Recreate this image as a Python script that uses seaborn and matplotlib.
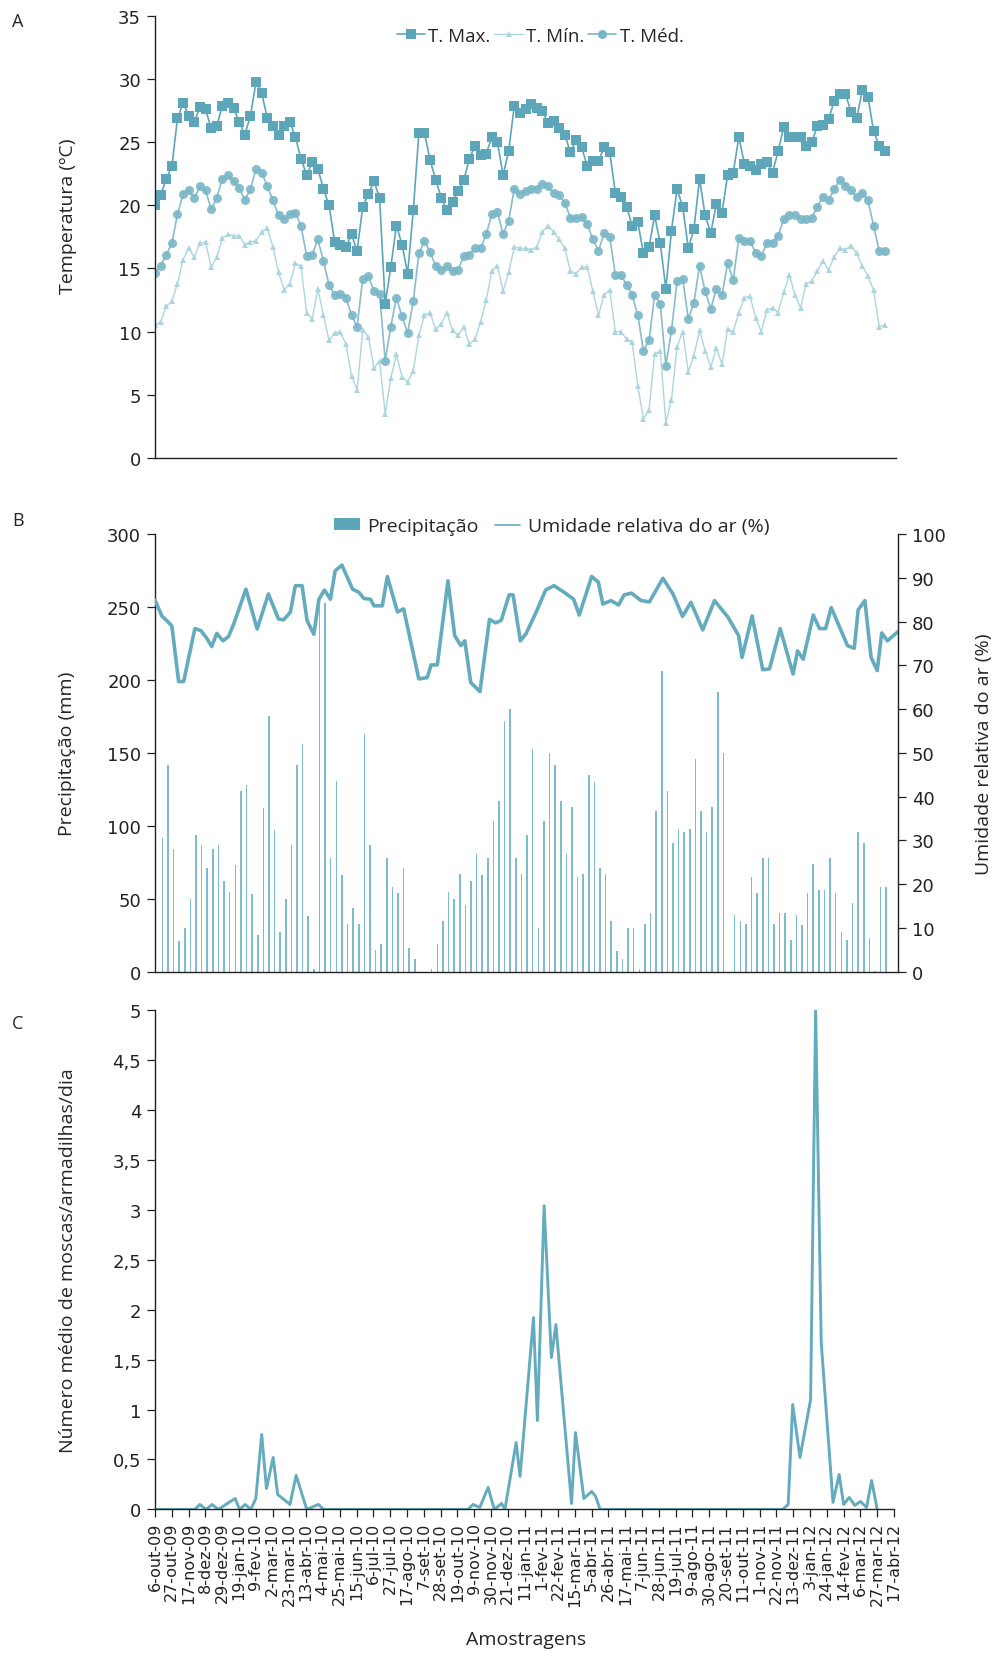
import numpy as np
import matplotlib
matplotlib.use('Agg')
import matplotlib.pyplot as plt
from matplotlib.lines import Line2D
from matplotlib.patches import Patch
import seaborn as sns

# --- dados (amostragens semanais, indice 0..130) ---
t_max = [20.0, 20.8, 22.1, 23.1, 26.9, 28.1, 27.1, 26.6, 27.8, 27.6,
         26.1, 26.3, 27.9, 28.1, 27.7, 26.6, 25.6, 27.1, 29.8, 28.9,
         26.9, 26.3, 25.6, 26.3, 26.6, 25.4, 23.7, 22.4, 23.4, 22.9,
         21.3, 20.0, 17.1, 16.9, 16.7, 17.7, 16.4, 19.9, 20.9, 21.9,
         20.6, 12.2, 15.1, 18.4, 16.9, 14.6, 19.6, 25.7, 25.7, 23.6,
         22.0, 20.6, 19.6, 20.3, 21.1, 22.0, 23.7, 24.7, 24.0, 24.1,
         25.4, 25.0, 22.4, 24.3, 27.9, 27.3, 27.6, 28.0, 27.7, 27.5,
         26.5, 26.7, 26.1, 25.6, 24.2, 25.2, 24.6, 23.1, 23.5, 23.5,
         24.6, 24.2, 21.0, 20.7, 19.9, 18.4, 18.7, 16.2, 16.7, 19.2,
         17.0, 13.4, 18.0, 21.3, 19.9, 16.6, 18.1, 22.1, 19.2, 17.8,
         20.1, 19.4, 22.4, 22.6, 25.4, 23.3, 23.1, 22.8, 23.3, 23.4,
         22.6, 24.3, 26.2, 25.4, 25.4, 25.4, 24.7, 25.0, 26.3, 26.4,
         26.8, 28.3, 28.8, 28.8, 27.4, 26.9, 29.1, 28.6, 25.9, 24.7,
         24.3]

t_med = [14.65, 15.2, 16.1, 17.0, 19.3, 20.9, 21.2, 20.6, 21.5, 21.2,
         19.7, 20.6, 22.1, 22.4, 21.9, 21.4, 20.4, 21.3, 22.9, 22.6,
         21.5, 20.4, 19.2, 18.9, 19.3, 19.4, 18.4, 16.0, 16.1, 17.3,
         15.6, 13.7, 12.9, 13.0, 12.7, 11.3, 10.4, 14.2, 14.4, 13.2,
         13.0, 7.7, 10.4, 12.7, 11.2, 9.9, 12.4, 16.2, 17.2, 16.3,
         15.2, 14.9, 15.2, 14.8, 14.9, 16.0, 16.1, 16.6, 16.6, 17.7,
         19.3, 19.5, 17.7, 18.8, 21.3, 20.9, 21.1, 21.3, 21.3, 21.7,
         21.5, 21.0, 20.8, 20.2, 19.0, 19.0, 19.1, 18.5, 17.3, 16.4,
         17.8, 17.5, 14.5, 14.5, 13.7, 12.9, 11.3, 8.5, 9.3, 12.9,
         12.2, 7.3, 10.1, 14.0, 14.2, 11.0, 12.3, 15.2, 13.2, 11.8,
         13.4, 12.9, 15.4, 14.1, 17.4, 17.2, 17.2, 16.2, 16.0, 17.0,
         17.0, 17.6, 18.9, 19.2, 19.2, 18.9, 18.9, 19.0, 19.9, 20.7,
         20.4, 21.3, 22.0, 21.5, 21.2, 20.7, 21.0, 20.4, 18.4, 16.4,
         16.4]

t_min = [10.5, 10.8, 12.0, 12.4, 13.8, 15.7, 16.6, 15.9, 17.0, 17.1,
         15.1, 15.9, 17.4, 17.7, 17.6, 17.6, 16.9, 17.1, 17.2, 17.9,
         18.2, 16.7, 14.7, 13.3, 13.8, 15.4, 15.2, 11.5, 11.0, 13.4,
         11.3, 9.3, 9.9, 10.0, 9.0, 6.5, 5.4, 10.1, 9.6, 7.1,
         7.7, 3.5, 6.3, 8.2, 6.4, 6.0, 6.9, 9.7, 11.3, 11.5,
         10.2, 10.6, 11.5, 10.1, 9.7, 10.4, 9.0, 9.4, 10.8, 12.5,
         14.8, 15.2, 13.2, 14.7, 16.7, 16.6, 16.6, 16.5, 16.7, 17.9,
         18.4, 17.9, 17.3, 16.6, 14.8, 14.6, 15.1, 15.1, 13.2, 11.3,
         12.9, 13.3, 10.0, 10.0, 9.4, 9.2, 5.7, 3.1, 3.8, 8.2,
         8.5, 2.8, 4.6, 8.8, 10.0, 6.8, 8.1, 10.1, 8.5, 7.2,
         8.7, 7.4, 10.2, 10.0, 11.5, 12.7, 12.8, 11.1, 10.0, 11.7,
         11.9, 11.5, 13.1, 14.5, 12.9, 11.9, 13.8, 14.0, 14.8, 15.6,
         14.9, 15.9, 16.6, 16.5, 16.8, 16.2, 15.2, 14.4, 13.3, 10.4,
         10.5]

precipitacao = [0, 92, 142, 84, 21, 30, 50, 94, 87, 71,
                84, 87, 62, 55, 73, 124, 128, 53, 25, 112,
                175, 97, 27, 50, 87, 142, 156, 38, 2, 252,
                253, 78, 131, 66, 33, 44, 33, 163, 87, 15,
                19, 78, 58, 54, 71, 16, 9, 0, 0, 2,
                19, 35, 55, 50, 67, 46, 62, 81, 66, 78,
                103, 117, 172, 180, 78, 67, 94, 153, 30, 103,
                150, 142, 117, 81, 113, 65, 67, 135, 130, 71,
                67, 35, 14, 9, 30, 30, 2, 33, 40, 110,
                206, 124, 88, 98, 96, 98, 146, 110, 96, 113,
                192, 150, 0, 39, 35, 33, 65, 54, 78, 78,
                33, 40, 40, 22, 39, 32, 54, 74, 56, 56,
                78, 54, 27, 22, 47, 96, 88, 23, 0.5, 58,
                58]

amostras = list(range(len(t_max)))

# umidade relativa: vertices da linha (semana, %)
umid_sem = [0.0, 1.2, 2.1, 3.0, 4.2, 5.1, 7.1, 8.2, 9.2, 10.1,
            11.0, 12.1, 13.1, 14.0, 16.2, 18.2, 20.2, 22.0, 22.9, 24.1,
            25.0, 26.2, 27.1, 28.3, 29.2, 30.2, 31.25, 32.1, 33.3, 35.2,
            36.3, 37.2, 38.4, 39.0, 40.5, 41.4, 43.2, 44.3, 47.0, 48.5,
            49.2, 50.3, 52.2, 53.4, 54.5, 55.2, 56.25, 57.9, 59.6, 60.7,
            61.7, 63.1, 63.8, 65.1, 66.1, 67.9, 69.6, 71.1, 72.9, 74.6,
            75.6, 77.8, 79.0, 79.8, 81.25, 82.6, 83.6, 84.9, 86.6, 88.1,
            90.5, 92.3, 94.0, 95.5, 97.6, 99.7, 102.1, 104.0, 104.6, 106.4,
            108.3, 109.5, 111.4, 113.7, 114.5, 115.5, 117.3, 118.4, 119.5, 120.5,
            123.4, 124.6, 125.3, 126.5, 127.6, 128.7, 129.5, 130.5, 132.4]
umidade = [84.9, 81.3, 80.2, 79.0, 66.3, 66.3, 78.4, 77.9, 76.2, 74.3,
           77.3, 75.6, 76.6, 79.4, 87.4, 78.3, 86.3, 80.6, 80.4, 82.1,
           88.2, 88.2, 80.2, 77.1, 85.1, 87.2, 85.1, 91.6, 92.9, 87.4,
           86.7, 85.3, 85.1, 83.6, 83.6, 90.3, 82.2, 82.9, 66.9, 67.2,
           70.1, 70.1, 89.3, 76.8, 74.5, 75.6, 66.1, 64.0, 80.5, 79.7,
           80.3, 86.1, 86.1, 75.6, 77.2, 82.1, 87.2, 88.2, 86.7, 85.1,
           81.5, 90.3, 89.0, 84.0, 84.8, 83.8, 86.1, 86.5, 84.8, 84.5,
           89.9, 86.3, 81.2, 84.4, 78.1, 84.8, 81.0, 76.8, 71.8, 81.3,
           69.0, 69.2, 78.4, 68.0, 73.3, 71.4, 81.5, 78.4, 78.4, 83.2,
           74.5, 73.9, 82.7, 84.8, 71.8, 68.8, 77.4, 75.6, 77.7]

# moscas: vertices da linha (semana, media)
moscas_sem = [0, 7.1, 8.0, 9.1, 10.2, 11.3, 14.3, 15.1, 16.1, 17.1,
              18.0, 19.05, 19.9, 21.1, 21.9, 24.1, 25.2, 27.1, 29.2, 30.1,
              55.9, 56.8, 58.0, 59.5, 60.6, 61.9, 62.5, 64.5, 65.2, 67.6,
              68.3, 69.5, 70.8, 71.6, 74.4, 75.1, 76.6, 78.0, 78.7, 79.5,
              112.1, 113.1, 113.9, 115.2, 117.1, 118.0, 119.0, 121.1, 122.2, 123.0,
              124.0, 125.0, 126.0, 127.1, 128.0, 129.0]
moscas = [0, 0, 0.05, 0, 0.05, 0, 0.11, 0, 0.05, 0,
          0.11, 0.75, 0.21, 0.52, 0.15, 0.05, 0.34, 0, 0.05, 0,
          0, 0.05, 0.02, 0.22, 0, 0.06, 0, 0.67, 0.33, 1.92,
          0.89, 3.04, 1.52, 1.85, 0.06, 0.77, 0.11, 0.18, 0.13, 0,
          0, 0.05, 1.05, 0.52, 1.10, 5.0, 1.67, 0.07, 0.35, 0.05,
          0.12, 0.04, 0.08, 0.02, 0.29, 0]

datas = ['6-out-09', '27-out-09', '17-nov-09', '8-dez-09', '29-dez-09',
         '19-jan-10', '9-fev-10', '2-mar-10', '23-mar-10', '13-abr-10',
         '4-mai-10', '25-mai-10', '15-jun-10', '6-jul-10', '27-jul-10',
         '17-ago-10', '7-set-10', '28-set-10', '19-out-10', '9-nov-10',
         '30-nov-10', '21-dez-10', '11-jan-11', '1-fev-11', '22-fev-11',
         '15-mar-11', '5-abr-11', '26-abr-11', '17-mai-11', '7-jun-11',
         '28-jun-11', '19-jul-11', '9-ago-11', '30-ago-11', '20-set-11',
         '11-out-11', '1-nov-11', '22-nov-11', '13-dez-11', '3-jan-12',
         '24-jan-12', '14-fev-12', '6-mar-12', '27-mar-12', '17-abr-12']
datas_pos = [3 * k for k in range(len(datas))]

ticks_a = [0, 5, 10, 15, 20, 25, 30, 35]
ticks_b = [0, 50, 100, 150, 200, 250, 300]
ticks_b2 = [0, 10, 20, 30, 40, 50, 60, 70, 80, 90, 100]
ticks_c = [0, 0.5, 1, 1.5, 2, 2.5, 3, 3.5, 4, 4.5, 5]
ticks_c_txt = ['0', '0,5', '1', '1,5', '2', '2,5', '3', '3,5', '4', '4,5', '5']

# cores
COR_MAX = '#5da6ba'
COR_MED = '#79b6c7'
COR_MIN = '#acd5e0'
COR_LINHA = '#64abbe'
COR_BARRA = '#7dbccb'

sns.set_theme(style='ticks')
plt.rcParams['font.family'] = ['Open Sans', 'DejaVu Sans']
plt.rcParams['axes.linewidth'] = 1.0
plt.rcParams['axes.edgecolor'] = '#222222'
plt.rcParams['xtick.major.size'] = 6
plt.rcParams['ytick.major.size'] = 6
plt.rcParams['xtick.major.width'] = 0.9
plt.rcParams['ytick.major.width'] = 0.9
plt.rcParams['xtick.color'] = '#222222'
plt.rcParams['ytick.color'] = '#222222'

fig = plt.figure(figsize=(9.99, 16.58), dpi=100)
ax_a = fig.add_axes([0.1552, 0.7232, 0.7417, 0.2666])
ax_b = fig.add_axes([0.1552, 0.4133, 0.7437, 0.2640])
ax_c = fig.add_axes([0.1552, 0.0890, 0.7397, 0.3013])

TICK_FONT = 'DejaVu Sans'

# ---------------- A: temperaturas ----------------
sns.lineplot(x=amostras, y=t_min, ax=ax_a, color=COR_MIN, linewidth=1.0,
             marker='^', markersize=5, markeredgewidth=0,
             estimator=None, sort=False, legend=False)
sns.lineplot(x=amostras, y=t_med, ax=ax_a, color=COR_MED, linewidth=1.2,
             marker='o', markersize=6.5, markeredgewidth=0, alpha=0.9,
             estimator=None, sort=False, legend=False)
sns.lineplot(x=amostras, y=t_max, ax=ax_a, color=COR_MAX, linewidth=1.2,
             marker='s', markersize=6.5, markeredgewidth=0,
             estimator=None, sort=False, legend=False)
ax_a.set_xlim(0, 132)
ax_a.set_ylim(0, 35)
ax_a.set_yticks(ticks_a)
ax_a.set_yticklabels([str(t) for t in ticks_a])
ax_a.tick_params(axis='x', bottom=False, labelbottom=False)
ax_a.tick_params(axis='y', labelsize=13, labelfontfamily=TICK_FONT, pad=4)
ax_a.set_xlabel('')
ax_a.set_ylabel('Temperatura (ºC)', fontsize=14)
ax_a.yaxis.set_label_coords(-0.106, 0.55)
sns.despine(ax=ax_a)

leg_a = [Line2D([], [], color=COR_MAX, marker='s', markersize=6.5, markeredgewidth=0, lw=1.2),
         Line2D([], [], color=COR_MIN, marker='^', markersize=5, markeredgewidth=0, lw=1.0),
         Line2D([], [], color=COR_MED, marker='o', markersize=6.5, markeredgewidth=0, lw=1.2)]
ax_a.legend(leg_a, ['T. Max.', 'T. Mín.', 'T. Méd.'], loc='center',
            bbox_to_anchor=(0.52, 0.955), ncol=3, frameon=False, fontsize=13.5,
            handlelength=1.5, handletextpad=0.2, columnspacing=0.2)

# ---------------- B: precipitacao e umidade ----------------
sns.barplot(x=[a + 0.3 for a in amostras], y=precipitacao, ax=ax_b,
            native_scale=True, width=0.28, color=COR_BARRA, errorbar=None,
            saturation=1, linewidth=0)
ax_b.set_xlim(0, 132.4)
ax_b.set_ylim(0, 300)
ax_b.set_yticks(ticks_b)
ax_b.set_yticklabels([str(t) for t in ticks_b])
ax_b.tick_params(axis='x', bottom=False, labelbottom=False)
ax_b.tick_params(axis='y', labelsize=13, labelfontfamily=TICK_FONT, pad=4)
ax_b.set_xlabel('')
ax_b.set_ylabel('Precipitação (mm)', fontsize=14)
ax_b.yaxis.set_label_coords(-0.106, 0.5)
ax_b.spines['top'].set_visible(False)
ax_b.spines['right'].set_visible(False)

ax_b2 = ax_b.twinx()
sns.lineplot(x=umid_sem, y=umidade, ax=ax_b2, color=COR_LINHA, linewidth=2.6,
             estimator=None, sort=False, legend=False)
ax_b2.set_xlim(0, 132.4)
ax_b2.set_ylim(0, 100)
ax_b2.set_yticks(ticks_b2)
ax_b2.set_yticklabels([str(t) for t in ticks_b2])
ax_b2.tick_params(axis='y', labelsize=13, labelfontfamily=TICK_FONT, pad=4)
ax_b2.set_ylabel('Umidade relativa do ar (%)', fontsize=14, rotation=90)
ax_b2.yaxis.set_label_coords(1.103, 0.5)
for s in ['top', 'left', 'bottom']:
    ax_b2.spines[s].set_visible(False)

leg_b = [Patch(facecolor=COR_MAX, edgecolor='none'),
         Line2D([], [], color=COR_LINHA, lw=1.2)]
ax_b2.legend(leg_b, ['Precipitação', 'Umidade relativa do ar (%)'], loc='center',
             bbox_to_anchor=(0.534, 1.018), ncol=2, frameon=False, fontsize=14,
             handlelength=1.3, handleheight=0.55, handletextpad=0.4, columnspacing=0.8)

# ---------------- C: moscas ----------------
sns.lineplot(x=moscas_sem, y=moscas, ax=ax_c, color=COR_LINHA, linewidth=2.1,
             estimator=None, sort=False, legend=False)
ax_c.set_xlim(0, 132)
ax_c.set_ylim(0, 5)
ax_c.set_yticks(ticks_c)
ax_c.set_yticklabels(ticks_c_txt)
ax_c.set_xticks(datas_pos)
ax_c.set_xticklabels(datas, rotation=90, ha='center', va='top')
ax_c.tick_params(axis='y', labelsize=13, labelfontfamily=TICK_FONT, pad=4)
ax_c.tick_params(axis='x', labelsize=11.5, labelfontfamily=TICK_FONT, pad=3)
ax_c.set_xlabel('')
ax_c.set_ylabel('Número médio de moscas/armadilhas/dia', fontsize=14)
ax_c.yaxis.set_label_coords(-0.106, 0.5)
sns.despine(ax=ax_c)

fig.text(526 / 999, 1 - 1640 / 1658, 'Amostragens', ha='center', va='center', fontsize=14)

for letra, ypix in [('A', 22), ('B', 521), ('C', 1024)]:
    fig.text(18 / 999, 1 - ypix / 1658, letra, ha='center', va='center', fontsize=13)

fig.savefig('out.png', dpi=100)
